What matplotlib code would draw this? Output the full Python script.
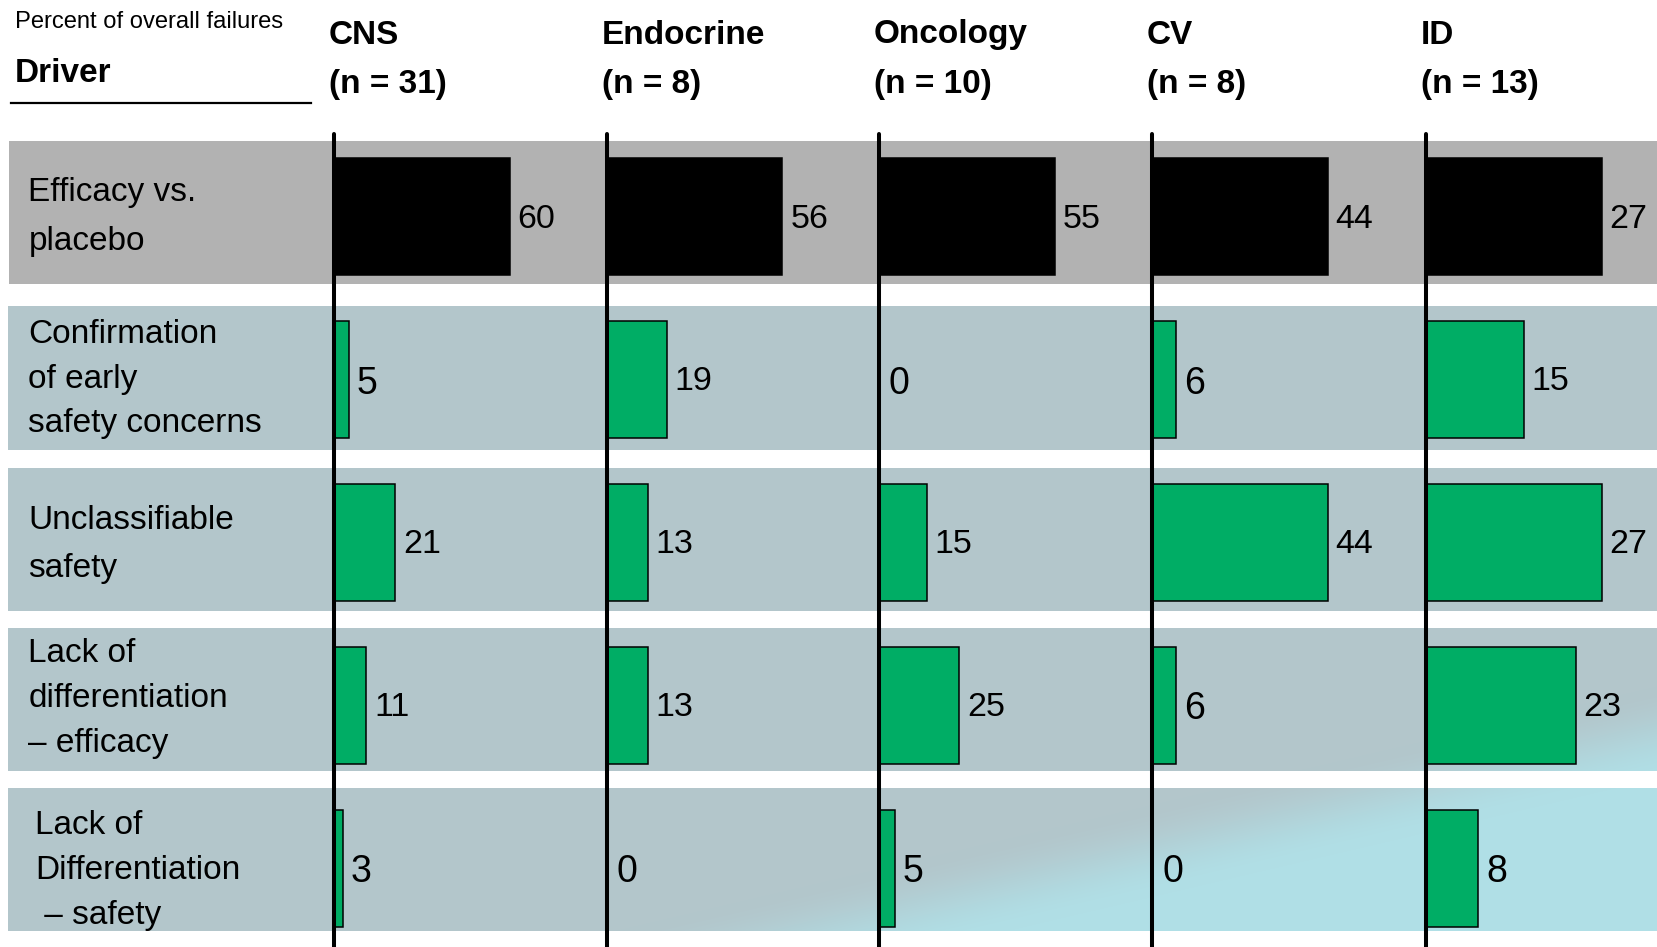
import matplotlib
matplotlib.use("Agg")
import matplotlib.pyplot as plt
import numpy as np
from matplotlib.patches import Rectangle

plt.rcParams['font.family'] = ['Liberation Sans', 'DejaVu Sans']

# data
drivers = ["Efficacy vs.\nplacebo",
           "Confirmation\nof early\nsafety concerns",
           "Unclassifiable\nsafety",
           "Lack of\ndifferentiation\n\u2013 efficacy",
           "Lack of\nDifferentiation\n \u2013 safety"]
areas = ["CNS", "Endocrine", "Oncology", "CV", "ID"]
n_counts = [31, 8, 10, 8, 13]
cns = [60, 5, 21, 11, 3]
endocrine = [56, 19, 13, 13, 0]
oncology = [55, 0, 15, 25, 5]
cv = [44, 6, 44, 6, 0]
id_vals = [27, 15, 27, 23, 8]
values = [cns, endocrine, oncology, cv, id_vals]

W, H = 1657, 947
fig = plt.figure(figsize=(W / 100, H / 100), dpi=100)

# background axes in pixel coordinates
bg = fig.add_axes([0, 0, 1, 1])
bg.set_xlim(0, W)
bg.set_ylim(H, 0)
bg.axis('off')

row_tops = [140.5, 306.5, 468, 628, 788]
row_h = 143
row_left = 8.5
label_dy = [5, 1, 5, -1, 11]

# diagonal gradient (grey-blue -> light cyan towards lower right)
gx, gy = np.meshgrid(np.arange(W) + 0.5, np.arange(H) + 0.5)
p0 = np.array([600.0, 960.0])
p1 = np.array([1657.0, 712.0])
d = p1 - p0
nrm = np.array([-d[1], d[0]]) / np.hypot(*d)
dist = (gx - p0[0]) * nrm[0] + (gy - p0[1]) * nrm[1]
t = np.clip((dist + 25) / 90.0, 0, 1)
t = t * t * (3 - 2 * t)
c_grey = np.array([179, 198, 203]) / 255
c_cyan = np.array([176, 223, 230]) / 255
grad = c_grey[None, None, :] * (1 - t[..., None]) + c_cyan[None, None, :] * t[..., None]

for i in range(len(drivers)):
    top = row_tops[i]
    if i == 0:
        bg.add_patch(Rectangle((row_left, top), W - row_left, row_h,
                               facecolor='#B2B2B2', edgecolor='none'))
    else:
        r0, r1 = int(round(top)), int(round(top + row_h))
        x0 = int(row_left)
        bg.imshow(grad[r0:r1, x0:], extent=(x0, W, r1, r0),
                  interpolation='bilinear', aspect='auto')
    lx = 35 if i == 4 else 28.5
    ls = 1.74 if drivers[i].count("\n") == 1 else 1.57
    bg.text(lx, top + row_h / 2 + label_dy[i], drivers[i],
            fontsize=24, ha='left', va='center', linespacing=ls)

bg.set_xlim(0, W)
bg.set_ylim(H, 0)

# header
bg.text(15, 22, "Percent of overall failures", fontsize=17.1,
        ha='left', va='center')
bg.text(15, 73, "Driver", fontsize=24, fontweight='bold',
        ha='left', va='center')
bg.plot([10.5, 311], [102.5, 102.5], color='black', lw=1.6)

# panels
panel_x = [334, 607, 879, 1152, 1426]
panel_w = 240
max_len = 175.5
y_top_px, y_bot_px = 134, H
ypos = np.arange(len(drivers))
row_pitch = 162.9
y_c0 = 216.6

for k, vals in enumerate(values):
    ax = fig.add_axes([panel_x[k] / W, 0, panel_w / W, (H - y_top_px) / H])
    ax.set_facecolor('none')
    vmax = max(vals)
    ax.set_xlim(0, vmax * panel_w / max_len)
    ax.set_ylim((y_bot_px - y_c0) / row_pitch, (y_top_px - y_c0) / row_pitch)
    colors = ['black'] + ['#00AD65'] * (len(vals) - 1)
    ax.barh(ypos, vals, height=117 / row_pitch, color=colors,
            edgecolor='black', linewidth=1.1, zorder=2)
    px_unit = vmax / max_len
    for j, v in enumerate(vals):
        fs = 27 if v < 10 else 24.5
        gap = 10 if v == 0 else 8
        dy = 0.025 if v < 10 else 0.015
        ax.text(v + gap * px_unit, j + dy, str(v), fontsize=fs,
                ha='left', va='center', clip_on=False, zorder=3)
    for s in ['top', 'right', 'bottom']:
        ax.spines[s].set_visible(False)
    ax.spines['left'].set_linewidth(2.9)
    ax.spines['left'].set_capstyle('round')
    ax.spines['left'].set_zorder(4)
    ax.set_xticks([])
    ax.set_yticks([])
    fig.text((panel_x[k] - 5) / W, 1 - 35 / H, areas[k], fontsize=24,
             fontweight='bold', ha='left', va='center')
    fig.text((panel_x[k] - 5) / W, 1 - 84 / H, f"(n = {n_counts[k]})",
             fontsize=24, fontweight='bold', ha='left', va='center')

fig.savefig("out.png", dpi=100)
